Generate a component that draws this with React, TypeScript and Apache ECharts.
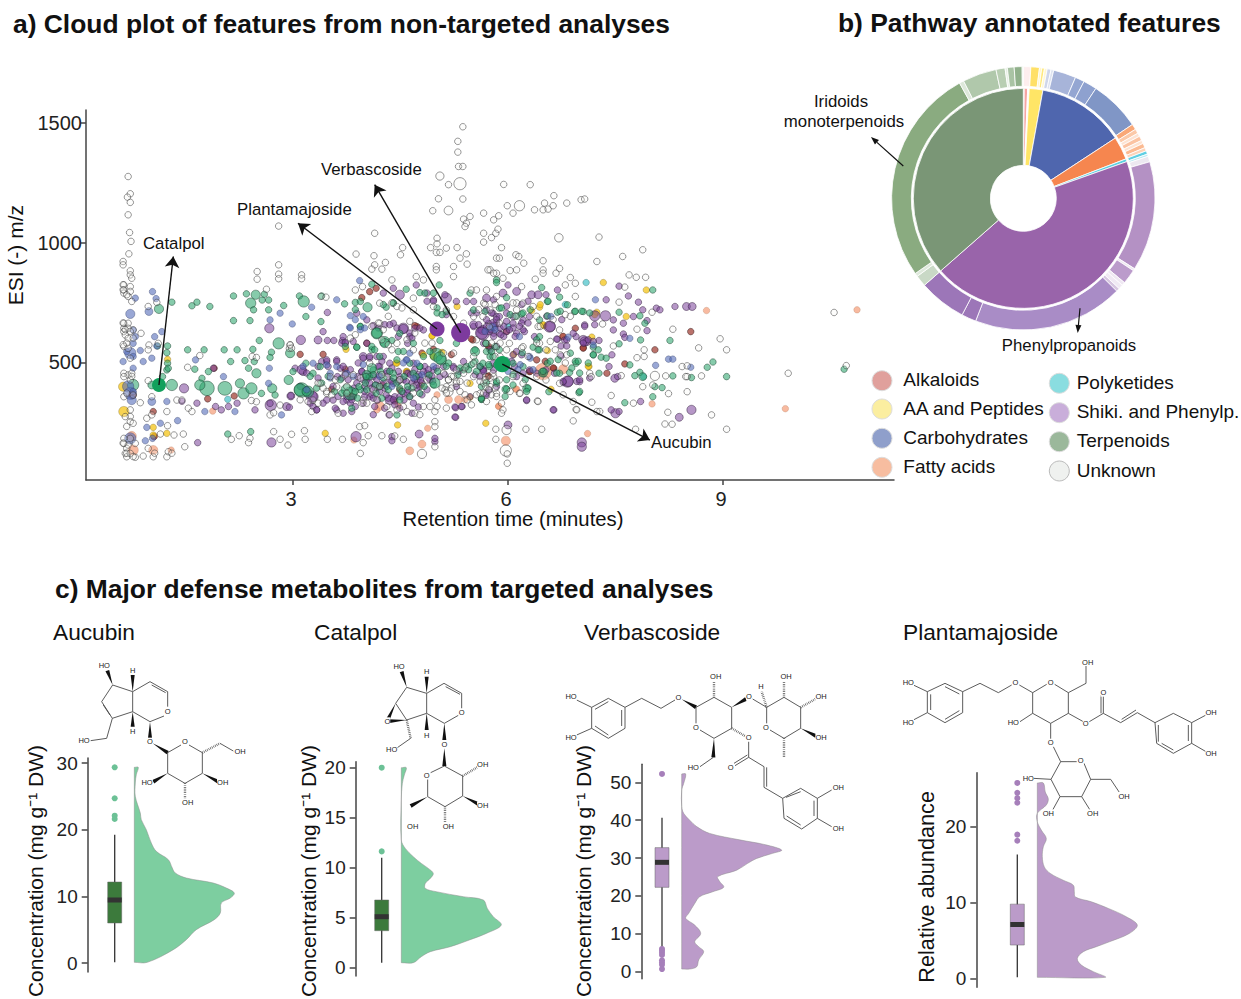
import React, { useEffect, useRef } from "react";
import * as echarts from "echarts";

type P = number[];

// ---------- a) cloud plot: [retention time, m/z, relative intensity]
const unknownPts: P[] = [
[.7,1276],[.73,1204],[.69,1190],[.73,1168],[.7,1116],[.72,1042],[.74,1005],[.71,953],[.63,921],[.63,907],[.73,882],[.73,865],[.75,851],[.64,823],[.64,802],[.64,789],[.73,816],[.73,796],[.7,775],[.75,754],[.64,663],[.64,642],[.64,628],[.7,663],[.7,642],[.66,614],[.7,600],[.77,635],[.88,621],[.64,566],[.7,558],[.73,517],[.64,454],[.7,447],[.75,454],[.64,440],[.73,426],[.87,331],[.77,363],[.64,356],[.73,301],[.73,273],[.73,252],[.77,245],[.64,161],[.68,140],[.66,119],[.68,105],[.8,103],[.73,119],[.73,182],[.64,182],[.8,161],[.7,154],
[.98,733],[1.1,750],[.99,572],[.98,552],[1.12,579],[.98,423],[1.03,356],[.96,266],[1.03,280],[1.24,294],[1.38,342],[1.45,342],[1.54,308],[1.59,294],[1.34,196],[1.47,200],[1.49,147],[1.24,105],[1.26,126],[.98,140],[1.05,105],[.91,108],[1.07,120],[1.31,120],[1.25,235],[1.15,200],
[2.8,1069],[2.5,879],[2.5,847],[2.8,907],[2.8,868],[2.8,849],[3.12,865],[3.12,849],[2.63,805],[3.39,775],[3.46,772],[4.14,1039],[3.88,952],[4.13,945],[4.5,949],[4.53,979],[4.14,907],[4.29,917],[4.1,889],[4.24,889],[4.38,844],[4.92,979],[5.01,1018],[5.01,995],[5.14,977],[5.29,979],[5,959],[5.05,959],[5.33,935],[5.42,953],[5.43,910],[5.24,900],[5,900],[5,886],[5.24,858],[4.72,858],[4.82,844],[4.95,1133],[5.03,1183],[5.17,1242],[5.05,1278,1.6],[5.33,1246,3.5],[5.17,1134,1.8],[5.37,1182],[5.38,1098],[5.47,1109],[5.42,1081],[5.4,1067],[5.31,1318],[5.37,1318],[5.3,1378],[5.3,1423],[5.37,1484],
[5.66,1123],[5.8,1095],[5.87,1112],[5.66,1039],[5.66,1002],[5.77,1021],[5.83,1039],[5.84,935],[5.75,886],[5.84,872],
[5.94,1243],[6.31,1242],[6.64,1196],[6.82,1165],[7.02,1179],[7.07,1182],[6.51,1165],[6.16,1154,2.5],[5.99,1154],[6.07,1123],[6.37,1137],[6.49,1137],[6.56,1140],[6.63,1154],[5.86,1056],[7.27,1023],[6.71,1020,1.7],[5.91,979],[7.6,942],[7.88,970],[7.24,921],[6.49,924],[6.22,914],[6.11,949],[6.15,942],[5.88,935],[6.03,883],[6.12,886],[6.72,892],[6.67,872],[6.49,886],[6.38,847],[6.49,872],[5.72,886],[5.8,872],[6.87,854],[6.8,823],[6.94,830],[7.69,865],[7.79,855],[7.92,855],[7.63,814],[6.94,775],[7.55,751],[6.19,816],[5.93,851],
[8.01,709],[7.32,660],[7.8,638],[8.3,638],[8.96,598],[9.05,552],[8.66,560],[7.9,552],[7.8,519],[7.9,524],[7.47,568],[8.43,482],[8.5,485],[8.05,443,2],[8.2,443],[8.5,440],[8.7,443],[8.48,440],[7.58,444],[8.02,405],[7.88,398],[8.5,377],[8.24,369],[7.44,361],[6.41,338],[7.17,333],[7.75,329],[6.95,303],[7.28,294],[8.23,291],[8.84,280],[6.91,255],[8.19,242],[8.29,241],[5.83,220],[5.98,217,2],[6.25,220],[6.47,220],[9.05,220],[5.83,178],[5.97,131,3],[5.99,117],[5.99,78],[7.78,220],[9.91,454],[10.55,708],[10.72,486],
[2.96,572],[2.95,558],[2.43,524],[2.49,520],[2.68,280],[2.73,289],[2.82,321],[2.42,340],[2.49,335],[1.53,479],[1.7,528],[2.73,210],[2.82,178],[2.93,154],[2.98,199],[3.16,214],[3.17,178],[3.48,178],[3.69,178],[3.98,164],[3.94,119],[4.24,193],[4.42,192],[4.54,178],[4.8,117,2],[4.98,147],[4.98,252],[4.98,231],[4,235],[3.93,231],[4.05,193],[4.59,294],[4.7,287],[5.14,308],[5.17,377,2],[2.14,178],[2.25,193],[2.4,182],[2.38,164],[3.87,802],[3.97,816],[5.49,802],[5.56,802],[5.7,802],[4.68,768],
[4.21,663],[4.45,579],[4.68,552],[4.07,496],[4.31,440],[4.49,426],[4.87,426],[5.14,398],[5.24,440],[5.28,412],[5.38,454],[5.52,440],[5.66,412],[5.1,454],[5.17,426],[4.68,398],[3.52,440],[3.38,412],[3.47,370],[3.61,398],[3.28,342],[3.75,370],[3.98,342],[5.28,468],[5.52,496],[5.8,440],[5.75,398],[5.61,370],[5.38,663],[5.24,691],[5.14,719],[4.96,733],[4.68,719],[4.45,733],[4.21,747],[5.52,691],[5.75,719],[5.66,747],[5.84,775],
[5.65,691],[5.74,649],[5.88,663],[6.12,719],[6.21,747],[6.35,733],[6.42,649],[6.72,635],[5.69,579],[5.84,565],[6.02,579],[6.21,565],[6.44,579],[6.53,552],[5.69,440],[5.79,454],[5.88,426],[6.07,440],[6.21,412],[6.4,440],[5.84,370],[5.69,398],[5.93,301],[5.91,287],[6.16,370],[6.53,426],[6.72,412],[7.14,454],[7.16,440],
];
const unknownDense: P[] = [
[4.19,664],[4.1,650],[4.26,636],[4.24,594],[4.33,573],[4.38,552],[4.59,594],[3.87,615],[3.8,601],[4.33,692],[4.52,727],[4.63,671],[4.7,622],[4.94,580],[4.84,580],[5.1,538],[5.24,538],[5.21,441],[5.17,427],[5.28,420],[5.12,385],[5.21,392],[5.08,392],[5.14,371],[4.98,343],[4.91,315],[4.98,294],[4.82,315],[4.49,427],[4.24,448],[3.94,434],[3.84,448],[3.73,448],[4.21,399],[4.12,385],[3.96,329],[4.03,329],[4.17,343],[4.45,301],[4.35,281],[3.75,399],[4.68,371],[4.54,315],[4.31,315],[4.77,281],[5.01,315],[5.4,476],[5.43,413],[5.33,378],[5.4,364],[5.43,343],[5.33,420],[4.38,748],
[5.68,427],[5.75,434],[5.61,420],[5.82,392],[5.73,385],[5.66,371],[5.56,364],[5.77,364],[5.84,357],[5.49,322],[5.7,336],[5.91,329],[6.03,378],[6.17,371],[6.42,336],[6.28,524],[6.19,559],[6.4,580],[6.66,552],[6.73,531],[6.8,497],[6.82,531],[6.77,364],[6.91,336],[7.24,294],[6.96,301],[6.12,748],[6.1,692],[6.4,692],[6.45,650],[6.63,678],[6.8,699],[6.87,692],[6.59,587],[5.56,594],[5.77,580],[5.89,580],[5.98,552],[5.52,524],[5.82,524],[5.89,524],[5.59,720],[5.68,741],[5.82,741],[6.07,748],
[2.96,573],[2.98,559],[3.35,413],[3.47,378],[3.54,364],[3.63,287],[3.1,343],[3.21,336],[3.35,329],[3.26,294],[3.42,392],[3.59,427],
[.63,824],[.63,803],[.68,782],[.63,664],[.66,636],[.73,629],[.77,601],[.68,580],[.63,573],[.75,441],[.68,371],[.66,273],[.68,232],[.63,162],[.68,120],[.77,106],
];
const terpenoidPts: P[] = [
[1.31,751],[1.13,723,2],[1.59,736],[1.66,751],[1.84,733],[2.17,777],[2.17,674],[2.4,674],[2.35,786],[2.48,782,2],[2.41,747,2.5],[2.45,719],[2.57,760],[2.66,760],[2.6,784],[2.66,719],[2.87,737],[3.09,777],[3.15,754,3],[3.18,691],[3.39,670],[3.4,777],[3.72,744],[3.87,750],[3.94,754],[4.04,730,2],[4.3,730],[4.4,747],[4.1,826],[4.58,805],[5.04,823],[4.77,791],[4.84,789],[4.96,789],[5.01,727],[5.14,712],[5.47,789],[5.68,712],[5.52,719],
[1.11,568],[1.25,568],[1.24,540],[1.25,496],[1.24,468],[1.26,475],[1.18,440],[1.31,405,3],[1.03,405,1.5],[.77,405,3],[1.53,552],[1.76,552],[2.04,552],[2.22,552],[2.44,554],[2.53,591],[2.8,579,3],[2.96,538,2],[2.7,542],[2.68,520],[2.13,503],[2.33,507],[2.46,503],[1.63,471],[1.82,461],[1.73,433],[2.49,454,2],[2.38,475],[1.8,391,5],[1.7,405,2.5],[2.05,391,4.5],[2.26,412,2],[2.31,370,3],[2.42,391,3],[2.71,391,2],[2.75,363],[2.94,426,2],[3.12,384,5],[3.21,377,3],[2.56,370],[2.09,200],[2.41,210],[3.18,496],[3,461],[3.28,454],[3.38,482],[3.8,370,4],[3.82,308],[4.03,447,2],[4.12,468],[4.17,621,3],[4.28,586,2.5],[4.21,524],[3.94,649],[3.89,563],[4.1,552],[4.45,510],[4.07,440],[4.21,398],[4.4,454],[4.63,496],[4.68,454],[4.77,482],[4.77,370],[4.96,405],[5,531,4],[5.07,510,2.5],[4.82,524],[4.49,342],[4.45,280],[5.28,579],[5.54,552],[5.42,482],[5.61,482],[5.63,345],[5.05,591],[5.38,468],[5.75,524],[5.84,489],[5.84,844],[5.7,579],[4.68,579],[4.49,621],
[5.84,833],[6.47,812],[6.72,772],[6.83,740],[6.55,754],[6.93,712],[7.05,712],[7.55,709],[7.84,694],[7.91,663],[8.02,802],[6.69,709],[6.55,694],[6.44,677],[6.19,702],[5.88,726],[5.98,770],[6.44,607],[7.19,563],[7.55,577],[7.85,593],[8.26,591],[7.19,531],[7.3,521],[7.37,517],[8.78,479],[8.86,501],[9.05,440],[7.7,489],[7.84,458],[7.77,444],[7.88,440,1.5],[8.15,394],[8.02,356],[8.05,398],[7.63,331],[6.99,373],[6.26,391,1.5],[5.97,387,1.5],[5.7,415],[5.63,345],[6.57,377],[6.49,457,2],[6.86,457],[7.27,454],[8.3,443],[8.56,436],[10.69,471],[6.07,496],[6.21,482],[6.35,563],[6.44,552],[6.55,496],[6.72,454],[6.95,496],[5.69,579],[5.74,482],[5.79,524],[5.88,552],[5.84,412],[6.07,405],[5.65,496],[6.2,540],
];
const terpenoidDense: P[] = [
[4.17,622,2.5],[4.28,580,2],[4.1,566],[4.14,552],[4.47,545],[4.54,545],[3.89,563],[3.73,566],[3.94,650],[4.38,591],[5.05,518,3.5],[4.98,413,2.5],[5.01,706],[5.08,699],[4.91,545],[5.17,497],[4.1,476,2],[4.12,448],[4.26,434],[4.35,462],[4.4,434],[4.01,413],[3.94,385],[4.03,385],[4.31,399],[4.49,392],[4.63,357],[4.66,392],[4.24,350],[3.75,385,3],[3.68,371],[3.87,378],[3.87,720],[4.4,748],[4.26,741],[4.77,483],[5.33,476],[5.45,469],[5.14,483],
[5.54,545,2],[5.7,545],[5.77,545],[5.82,566],[5.49,490],[5.54,504],[5.56,462],[5.73,490],[5.63,399],[5.63,350],[5.98,427],[5.98,388],[5.96,357],[5.84,420],[6.07,448],[6.24,427],[6.28,392],[6.26,378],[6.42,552],[6.59,504],[6.7,511],[6.49,462],[6.68,455],[6.89,476],[6.94,504],[6.87,538],[6.98,504],[7,455],[7,378],[7.19,531],[7.26,552],[7.12,497],[6.94,713],[7.03,713],[7.14,706],[6.73,713],[6.56,755],[6.03,699],[5.91,727],[6.21,706],[6.4,594],[6.31,720],[6.12,692],
[3.1,385,3.5],[3.19,378,2],[3.24,441],[3.49,441],[3.66,427],[3.33,392],[3.4,413],
[3.92,398],[4.02,440],[4.15,405],[4.22,462],[4.33,385],[4.44,413],[4.55,440],[4.6,399],[4.72,440],[4.83,399],[4.9,447],[4.52,378],[4.16,371],[3.9,350],[3.58,378],[5.02,462],[5.3,448],
];
const shikimatePts: P[] = [
[3.48,708],[2.67,642,2],[3.11,593,2],[3.35,593,1.5],[3.48,591],[3.57,591],[3.42,628],[3.69,591],[3.89,705],[4.03,677],[4.49,782,2],[4.72,823],[4.96,761],[5.14,768,2.5],[5.28,754],[5.42,754],[5.52,754],[4.87,789],[5.12,782],[4.4,809],[4.26,789],
[4.4,663],[4.54,642,2.5],[4.7,642],[4.82,635],[5.65,621,4],[5.52,649],[5.8,649,2],[4.63,607],[4.6,579],[4.03,579],[3.7,607],[3.73,579],
[3.14,461,1.5],[3.03,475],[3.47,503],[3.35,482],[3.49,482],[3.61,510],[3.66,475],[3.73,454],[3.98,524,1.5],[4.07,517],[4.16,398,2],[4.26,524],[4.35,496],[3.96,461],[4.03,426],[4.12,440],[4.21,482],[4.31,454],[4.4,412],[4.35,342,2],[4.42,356],[4.49,440],[4.61,454],[4.68,496],[4.73,426],[4.87,454],[4.77,440],[4.84,482],[4.91,426],[4.96,468],[4.77,398],[4.54,370],[4.63,356],[4.68,329],[4.07,356],[3.98,329],[3.75,342],[3.84,356],[3.8,329],[3.56,342],[3.47,342],[3.28,356,2.5],[3.24,329],[3.33,301],[3.42,329],[3.61,301],[3.7,287],[4.18,342],[4.28,308],[4.34,280],[4.49,308],[5.27,310],[5.27,270],[5.36,315],[2.97,359,1.5],[2.47,301],[2.69,321,3],[2.91,315,1.5],[2.95,312],[2.68,328],[1.48,391,2],[1.45,337],[1.66,329],[1.89,475],[2,301],[2.1,315],[2.22,329],[1.92,315],[1.67,164],[2.7,165,2],[3.88,189,2.5],[4.38,189],[4.38,172],[4.76,200,1.5],[4.98,168],[4.98,182],
[5.05,440],[5.61,440],[5.38,503],[5.24,482],[5.66,468],[5.8,468],[5.84,398],[5.7,370],[5.47,356],[5.28,398],[5.61,635],[5.73,663],[5.84,691],[5.8,621],[5.66,579],[5.84,566],[5.75,552],
[5.7,768,1.5],[5.8,761],[5.93,789,1.5],[6.12,796,1.5],[6,823],[6.33,782,1.5],[6.42,782,1.5],[6.53,782],[6.69,802],[5.7,719],[5.79,705],[5.88,691],[5.98,705],[6.07,691],[6.21,677],[6.3,691],[5.65,635,2],[5.74,628],[5.84,663],[5.88,621],[5.98,628],[6.07,663],[6.12,621],[6.23,628],[6.37,607],[6.58,649,3],[7.21,694,2.5],[7.36,694,2.5],[7.37,761],[7.82,751],[7.88,719],[7.75,691],[7.68,777],[7.55,818],[8.07,726],[8.12,719],[8.33,733],[8.49,733,1.5],[8.57,733,1.5],[7.47,677],[7.61,663],[7.47,635],[7.61,618],[7.63,604],[7.94,632],[7.94,674],[7.07,656],[7.05,593,2],[7.1,586,1.5],[7.27,591],[6.95,607],[6.69,596],[6.79,593],[6.74,568],[6.82,568],[6.91,621],[7.45,531],[6.74,526],[7.41,482],[7.49,433,1.5],[7.53,440],[7,419],[6.83,419,3],[6.77,415],[6.26,340],[6.64,301],[6,238,1.5],[7.03,165,2],[7.03,147,2],[7.5,287,2],[7.44,301],[7.55,294],[7.85,336],[8.56,301,2],[8.39,270,1.5],[6.12,440],[6.21,454],[6.3,468],[6.4,454],[6.53,468],[6.65,454],[5.74,384],[5.7,363],[6.09,482],[5.79,496],[5.65,468],
];
const shikimateDense: P[] = [
[4.07,524],[4.17,524],[4.24,504],[3.98,517],[3.91,497],[3.8,469],[3.7,483],[3.96,462],[4.05,448],[4.19,483],[4.31,462],[4.38,476],[4.47,462],[4.59,455],[4.7,469],[4.75,448],[4.82,462],[4.89,469],[5,476],[5.1,483],[5.24,476],[4.7,427],[4.8,413],[4.89,434],[4.66,413],[4.54,427],[4.47,420],[4.35,427],[4.26,413],[4.17,427],[4.07,413],[3.98,427],[3.89,413],[3.77,427],[3.68,434],[3.75,357],[3.82,343],[3.7,336],[3.87,315],[3.82,294],[4,357],[4.1,364],[4.21,378],[4.33,350],[4.4,343],[4.49,357],[4.59,371],[4.8,364],[4.73,392],[4.87,385],[4.14,315],[4.12,281],[5.26,313],[5.35,315],[5.26,271],[4.75,313],[4.66,287],[4.42,322],
[4.28,657],[4.35,657],[4.45,643],[4.54,639,2],[4.63,622],[4.77,643],[4.66,601],[4.47,608],[3.68,580],[3.73,583],[3.84,587],[4.19,643],[4.12,653],[5.14,699],[4.87,755],[4.96,755],
[5.63,622,3.5],[5.52,657,1.5],[5.7,650],[5.8,664,1.5],[5.89,643],[6.07,643],[6.1,608],[5.8,608],[5.94,608],[5.59,657],[5.84,678],[5.98,671],[6.19,664],[6.21,636],[6.28,664],[6.59,650,2.5],[7.07,587,2],[7.12,594],[7.05,580],[7.19,587],[6.68,597],[6.82,594],[6.84,420,2.5],[6.96,420],[7,427],[6.77,420],[7.14,434],[6.63,301],[7.07,650],[7.21,657],[6.75,678],[5.49,706],[5.56,706],[5.77,706],[5.98,734],[6.19,741],[6.28,755],[6.54,692],[5.61,483],[5.54,448],[5.66,462],[6.05,504],[6.12,545],[6.19,531],[6.07,531],[6.26,343],
[3.12,469,2],[3.19,455],[3.26,357,3],[3.4,503],[3.47,510],[3.61,503],[3.35,434],[3.56,399],[3.63,357],[3.28,315],[3.33,301],[3.59,308],[2.97,360],[3.1,399],
[3.9,440],[4,398],[4.1,392],[4.2,448],[4.28,392],[4.38,420],[4.58,420],[4.64,448],[4.72,405],[4.78,426],[4.94,440],[4.6,385],[4.3,364],[4.0,378],[3.85,392],[3.62,440],[4.12,350],[4.55,343],[4.95,420],[5.12,448],[5.32,462],[5.7,678],[5.76,636],[5.9,615],[5.94,650],[6.02,636],[6.16,650],
];
const carbohydratePts: P[] = [
[.73,702,2],[.77,635],[.73,538,3],[.63,503],[.77,475],[.73,370,3.5],[.75,342,2],[.73,182,3],[.8,768],[.8,607],[.77,579],[.68,545],[.77,524],[.7,399,3],[.77,378],
[1.04,795],[1.09,766],[.99,712,1.5],[1.17,628],[1.07,607],[1.1,568],[.87,549],[.91,503],[1.03,517],[1.03,336,1.5],[1.24,336],[1.39,256],[.96,228],[1.15,245],[.94,172],[1.04,182],[1.64,510],[2.03,440],[2.19,294],[1.77,294],[2.67,475],[2.68,677],[2.82,705],[2.99,660],[3.26,730],[3.61,761],[3.93,841],[3.79,646],[3.98,691],[2.84,280],[3.61,482],[2.66,412],[3.52,454],[3.28,496],[3.75,454],[4.58,510],[4.73,496],
[7.22,761],[7.7,600],[6.3,524],[6.16,607],[8.24,513],[8.3,513],[8.55,479],[8.06,487],[5.98,507],[5.79,649],[6.6,691],[7.19,572],
[3.8,695],[3.87,678],[3.94,636],[4,643],[3.8,643],[4.63,538],[4.59,510],[4.54,497],[3.98,490],[3.84,441],[4.8,448],[4.68,434],[4.21,441],[4.38,399],[4.96,483],
[5.82,636],[5.75,643],[5.68,629],[6.31,517],[6.17,490],[6.35,469],[6.84,605],[6,462],[6.14,469],[3.47,489],[3.52,434],[3.14,483],[3.19,385],
];
const fattyAcidPts: P[] = [
[.75,192,2],[.77,133,2.5],[1.05,133,2],[1.07,192],[1.3,133],[1.88,296],[3.85,175],[4.63,130,1.5],[4.8,158,1.5],[4.88,224],[4.21,317,2],[4.17,301],[4.47,317],[5.17,344,1.5],[5.31,344,1.5],[5.4,344],[5.87,315],
[6.49,461,6.5],[6.77,471,2],[6.11,387],[5.87,317],[8.01,326],[5.97,172,2],[7.11,202],[8.77,716],[10.87,719],[9.87,306],[6.76,607],[5.01,364],[6.12,388],
];
const aminoAcidPts: P[] = [
[.63,398,2],[.64,294,2.5],[1.05,228],[1.05,196],[1.24,203],[1.25,512],[3.45,203],[4.46,238],[5.69,245],[5.47,354],[5.47,412],[4.45,496],[4.96,524],[5.07,538],[5.29,733],[3.74,554],[4.94,610],[4.82,531],[4.58,461],[4.79,405],
[7.93,802],[7.65,691],[7.24,709],[7.33,833],[6.33,716],[6.44,730],[6.5,653],[6.55,549],[6.08,533],[7.13,482],[6.6,387],[7.17,605],[4.44,497],[4.59,462],[4.94,611],[5.08,541],[4.96,525],[6.45,741],[7.21,699],[6.49,657],[7.12,483],
];
const alkaloidPts: P[] = [
[.76,363,1.5],[1.05,294],[1.81,347],[2.18,359],[3.1,533],[3.42,533],[3.54,387],[3.96,770],[4.16,809],[4.07,795],[4.73,649],[4.96,554],[5.51,593],[3.73,471],[3.82,356],[4.25,405],[4.42,338],[1.9,475],[1.06,189],
[6.94,642],[7.05,561],[8.55,628],[8.05,552],[7.63,493],[7.38,454],[6.3,461],[6.4,510],[6.64,475],[5.72,440],[5.74,563],[6.49,454],[4.03,580],[4.7,653],[5.21,532],[4.8,538],[3.8,360],[4.49,385],[6.52,504],[6.31,462],[6.63,476],[5.98,629],[5.73,566],[5.73,443],[5.49,597],[6.77,608],[7.05,559],
];
const polyketidePts: P[] = [[2.09,345],[7.09,833],[6,649],[7.89,440],[6.8,741]];
const terpeneMarkers: P[] = [[5.92,492,6.2],[1.13,405,4.6]];
const phenylMarkers: P[] = [[5.01,639,5.4],[5.34,624,8.7]];
const annotationTargets = [
  { name: "Catalpol", from: [1.13, 405], to: [1.33, 942] },
  { name: "Plantamajoside", from: [5.01, 639], to: [3.07, 1081] },
  { name: "Verbascoside", from: [5.34, 624], to: [4.14, 1242] },
  { name: "Aucubin", from: [5.92, 492], to: [7.98, 175] },
];
const xTicks = [3, 6, 9];
const yTicks = [500, 1000, 1500];

// ---------- b) pathway rings (degrees of the circle)
const innerNames = ["", "Alkaloids", "", "AA and Peptides", "Carbohydrates", "Fatty acids", "Polyketides", "Shiki. and Phenylp.", "Terpenoids"];
const innerValues = [0.5, 1.8, 0.8, 7.2, 46.5, 12.2, 1.5, 158.2, 131.3];
const innerColors = ["#ffffff", "#f6a5a2", "#ffffff", "#ffe566", "#4f66ae", "#f6864f", "#5cd0e0", "#9964aa", "#7a9676"];
const outerValues = [3.3, 3.8, 1, 1.2, 1.2, 1.7, 1.2, 10, 4.1, 6, 22.5, 2.5, 2, 1.5, 2, 1.5, 2, 1.5, 1.5, 1, 2.5, 48.5, 1, 6.5, 1.5, 2, 1.5, 66.5, 6.5, 21, 5, 1.5, 96, 2, 15, 4, 1, 3, 3.5, 0.5];
const outerColors = ["#fdeeee", "#ffe066", "#fff6c8", "#ffe97f", "#fff7d0", "#cfd6ea", "#dde2f0", "#a7b4d9", "#94a6d2", "#8ea1cf", "#8096c6", "#f9a877", "#fbc9a8", "#fde3d2", "#fbc3a2", "#fde3d2", "#fbba92", "#fcd3b9", "#5fcfe3", "#bfeaf2", "#ece8f0", "#b491c4", "#efe8f2", "#bb9bcb", "#efe8f2", "#f0e9f3", "#d7c6e0", "#a98cc6", "#9c76b8", "#9c76b8", "#c9d9c6", "#dfe9dc", "#8aab80", "#dde8da", "#b0c8ab", "#b8ceb2", "#e5efe2", "#a9c3a4", "#90b08b", "#e5efe2"];
const legendLeft = ["Alkaloids", "AA and Peptides", "Carbohydrates", "Fatty acids"];
const legendRight = ["Polyketides", "Shiki. and Phenylp.", "Terpenoids", "Unknown"];
const legendLeftColors = ["#e0a09c", "#fbeea0", "#8f9fcb", "#f7bda0"];
const legendRightColors = ["#8adde0", "#c9aeda", "#9bb89b", "#eff1ef"];

// ---------- c) raincloud panels: [concentration, relative density]
const aucubinDensity: P[] = [[.1,.13],[2,.39],[3.5,.52],[5,.62],[6.5,.8],[7.5,.86],[9,.87],[9.75,.96],[10.5,1],[11.25,.92],[12,.79],[12.75,.52],[13.5,.41],[14.25,.38],[15.5,.34],[16.75,.22],[18,.17],[20,.12],[21.5,.07],[22.5,.06],[25,.01],[27,.01],[28.25,.02],[29.35,.04]];
const catalpolDensity: P[] = [[.5,.12],[1.1,.2],[1.6,.29],[2.1,.49],[2.77,.68],[3.43,.85],[4.27,1],[5.1,.92],[5.93,.86],[6.77,.82],[7.1,.62],[7.6,.35],[7.93,.24],[8.43,.24],[8.93,.29],[9.43,.32],[9.93,.27],[10.43,.2],[11.1,.12],[11.93,.04],[12.77,0],[16.77,0],[18.4,.01],[19.27,.03],[20,.05]];
const verbascosideDensity: P[] = [[.7,.08],[1.3,.15],[3.1,.17],[5.3,.22],[6.6,.17],[7.9,.13],[10.1,.19],[12.3,.13],[14.1,.04],[15.4,.07],[18,.13],[19.8,.18],[21.1,.31],[22.3,.42],[23.8,.38],[25.1,.36],[26.8,.55],[28.6,.66],[29.9,.75],[31.25,.91],[32.1,1],[33.5,.84],[34.8,.58],[36.5,.28],[38.3,.15],[40,.08],[41.8,.02],[43.6,0],[48,0],[49.7,.02],[52.2,.04]];
const plantamajosideDensity: P[] = [[.13,.68],[.88,.56],[1.75,.44],[2.6,.4],[3.5,.46],[4.16,.59],[4.8,.72],[5.9,.92],[7,1],[8.1,.89],[9.2,.71],[10.07,.54],[10.7,.38],[11.4,.37],[12.25,.36],[12.9,.26],[13.8,.13],[14.66,.07],[16,.05],[17.3,.06],[18.4,.09],[19.5,.04],[20.6,0],[21.7,0],[22.8,.09],[23.6,.11],[24.5,.08],[25.7,.06]];
// [low whisker, Q1, median, Q3, high whisker]
const aucubinBox = [0.1, 6, 9.45, 12.15, 19.25];
const catalpolBox = [0.5, 3.7, 5.1, 6.77, 11];
const verbascosideBox = [6.2, 22.27, 28.87, 32.75, 40.67];
const plantamajosideBox = [0.13, 4.38, 7.09, 9.76, 16.3];
const aucubinOutliers = [29.35, 24.7, 22.1, 21.6];
const catalpolOutliers = [20, 11.63];
const verbascosideOutliers = [52.2, 6, 5.5, 5, 4.4, 3, 2.4, 1.8, 0.7];
const plantamajosideOutliers = [25.7, 24.4, 23.7, 23.1, 18.9, 18.1];
const aucubinTicks = [0, 10, 20, 30];
const catalpolTicks = [0, 5, 10, 15, 20];
const verbascosideTicks = [0, 10, 20, 30, 40, 50];
const plantamajosideTicks = [0, 10, 20];

const FONT = '"Liberation Sans", Arial, sans-serif';
const panels = [
  { name: "Aucubin", density: aucubinDensity, box: aucubinBox, outliers: aucubinOutliers, ticks: aucubinTicks, axisX: 87.7, top: 758, bottom: 972, min: -1.35, max: 30.75, boxPx: 114.7, base: 134.3, fill: "#7dcea0", boxFill: "#3c7a3c", outlier: "#6cc196" },
  { name: "Catalpol", density: catalpolDensity, box: catalpolBox, outliers: catalpolOutliers, ticks: catalpolTicks, axisX: 355.7, top: 761.7, bottom: 976, min: -0.83, max: 20.6, boxPx: 381.7, base: 401.3, fill: "#7dcea0", boxFill: "#3c7a3c", outlier: "#6cc196" },
  { name: "Verbascoside", density: verbascosideDensity, box: verbascosideBox, outliers: verbascosideOutliers, ticks: verbascosideTicks, axisX: 641.3, top: 764.3, bottom: 978.7, min: -1.85, max: 54.75, boxPx: 662, base: 681.7, fill: "#bb9bc9", boxFill: "#bb9bc9", outlier: "#a67fba" },
  { name: "Plantamajoside", density: plantamajosideDensity, box: plantamajosideBox, outliers: plantamajosideOutliers, ticks: plantamajosideTicks, axisX: 976.3, top: 772.7, bottom: 987.3, min: -1.18, max: 27.05, boxPx: 1017.3, base: 1037.3, fill: "#bb9bc9", boxFill: "#bb9bc9", outlier: "#a67fba" },
];

type Mol = { o: number[]; lines: number[][]; wedges: number[][]; hashes: number[][]; labels: [string, number, number][] };
const molecules: Mol[] = [
  { o: [0, 650],
    lines: [[338,105,398,125,398,185,337,205,305,155,338,105],[330,195,310,165],[398,125,450,95,503,125,503,170],[455,105,497,128],[492,198,450,215,398,185],[337,205,320,265,272,272],[503,308,543,285],[567,285,607,308,607,370,555,400,503,370,503,308],[660,280,700,303]],
    wedges: [[338,105,322,62],[398,125,398,75],[398,185,398,230],[450,215,450,265],[458,280,503,308],[503,370,460,395],[607,370,655,395]],
    hashes: [[607,308,660,280],[555,400,555,445]],
    labels: [["HO",313,45],["H",398,60],["O",503,183],["H",398,243],["HO",252,272],["O",450,275],["O",555,275],["OH",720,305],["HO",441,397],["OH",668,397],["OH",563,458]] },
  { o: [290, 650],
    lines: [[350,112,410,130,410,190,350,210,317,160,350,112],[410,130,462,100,515,130,515,175],[467,110,510,133],[505,196,463,220,410,190],[362,265,322,293],[463,348,518,378,518,438,465,470,413,440,413,388],[422,368,463,348]],
    wedges: [[317,160,292,212],[350,210,295,214],[350,112,335,65],[410,130,410,80],[410,190,410,240],[463,220,463,270],[463,295,463,348],[518,438,565,462],[413,440,362,468]],
    hashes: [[350,210,362,265],[518,378,565,350],[465,470,465,518]],
    labels: [["HO",327,50],["H",410,65],["O",515,188],["H",410,255],["O",292,214],["HO",305,297],["O",463,282],["O",410,376],["OH",578,343],["OH",578,466],["OH",475,530],["OH",368,530]] },
  { o: [560, 650],
    lines: [[95,172,145,145,195,172,195,235,145,265,95,235,95,172],[105,178,145,155],[105,228,145,255],[185,180,185,228],[50,150,95,172],[50,255,95,235],[195,172,245,145,303,175,345,150],[408,172,462,142,515,172,515,235,462,265,420,240],[408,222,408,172],[578,147,620,172],[620,172,672,142,722,172,722,235,672,265,630,240],[620,222,620,172],[566,275,566,322],[566,322,525,347],[562,315,522,340],[566,322,612,350,612,412,668,445],[620,352,620,410],[668,445,722,415,772,445,772,505,725,537,672,505,668,445],[762,452,762,498],[680,498,722,525],[678,442,722,425],[772,445,815,420],[772,505,815,530],[460,322,420,350]],
    wedges: [[365,148,408,172],[515,172,558,147],[722,235,768,258],[462,265,460,322]],
    hashes: [[462,142,462,95],[620,172,605,125],[672,142,672,95],[722,172,770,145],[672,265,672,322],[515,235,555,258]],
    labels: [["HO",33,140],["HO",33,262],["O",355,142],["O",408,232],["OH",467,80],["O",567,140],["O",618,232],["H",603,110],["OH",678,80],["OH",783,140],["OH",783,262],["O",566,262],["O",512,352],["OH",835,413],["OH",835,535],["HO",400,352]] },
  { o: [900, 650],
    lines: [[82,125,135,100,188,125,188,188,135,218,82,188,82,125],[92,133,92,180],[135,110,178,132],[135,208,178,182],[40,105,82,125],[40,210,82,188],[188,125,240,100,295,128,335,105],[358,105,398,128],[398,128,440,103],[464,103,505,128,505,190,452,220,398,190,398,128],[505,128,558,100,558,45],[398,190,360,215],[505,190,550,215],[568,215,610,190],[610,190,610,135],[603,190,603,135],[610,190,662,218,712,188,765,218],[665,208,708,180],[765,218,820,190,875,218,875,280,820,310,770,280,765,218],[775,225,775,275],[865,225,865,273],[785,280,820,300],[875,218,918,195],[875,280,918,305],[452,220,452,268],[460,290,482,335],[482,335,530,335],[552,340,572,388,545,440,480,440,453,388,482,335],[400,385,453,388],[572,388,632,388,660,430],[480,440,458,480],[545,440,570,480]],
    wedges: [], hashes: [],
    labels: [["HO",25,97],["HO",25,218],["O",346,98],["O",452,97],["OH",563,36],["HO",340,218],["O",557,220],["O",610,128],["OH",933,188],["OH",933,310],["O",452,278],["O",542,332],["HO",385,385],["OH",672,438],["OH",445,490],["OH",578,490]] },
];

function moleculeGraphics(m: Mol): any[] {
  const [ox, oy] = m.o;
  const px = (x: number, y: number) => [ox + x / 3, oy + y / 3];
  const out: any[] = [];
  m.lines.forEach((l) => {
    const pts: number[][] = [];
    for (let i = 0; i < l.length; i += 2) pts.push(px(l[i], l[i + 1]));
    out.push({ type: "polyline", shape: { points: pts }, style: { stroke: "#4a4a4a", lineWidth: 0.9, fill: "none" }, silent: true });
  });
  m.wedges.forEach(([a, b, c, d]) => {
    const [x1, y1] = px(a, b), [x2, y2] = px(c, d);
    const dx = x2 - x1, dy = y2 - y1, L = Math.hypot(dx, dy) || 1;
    const nx = (-dy / L) * 2, ny = (dx / L) * 2;
    out.push({ type: "polygon", shape: { points: [[x1, y1], [x2 + nx, y2 + ny], [x2 - nx, y2 - ny]] }, style: { fill: "#111" }, silent: true });
  });
  m.hashes.forEach(([a, b, c, d]) => {
    const [x1, y1] = px(a, b), [x2, y2] = px(c, d);
    out.push({ type: "line", shape: { x1, y1, x2, y2 }, style: { stroke: "#555", lineWidth: 2.4, lineDash: [0.7, 1.1] }, silent: true });
  });
  m.labels.forEach(([t, a, b]) => {
    const [x, y] = px(a, b);
    out.push({ type: "text", x, y, silent: true, style: { text: t, font: `7.5px ${FONT}`, fill: "#222", textAlign: "center", textVerticalAlign: "middle", align: "center", verticalAlign: "middle", backgroundColor: "#fff" } });
  });
  return out;
}

function txt(text: string, x: number, y: number, size: number, opts: any = {}) {
  const align = opts.align || "left";
  return {
    type: "text", x, y, rotation: opts.rotation || 0, silent: true, z: 10,
    style: { text, font: `${opts.bold ? "bold " : ""}${size}px ${FONT}`, fill: opts.fill || "#111", textAlign: align, align, textVerticalAlign: "middle", verticalAlign: "middle" },
  };
}
function arrow(x1: number, y1: number, x2: number, y2: number) {
  const a = Math.atan2(y2 - y1, x2 - x1), s = 8, w = 3;
  const bx = x2 - Math.cos(a) * s, by = y2 - Math.sin(a) * s;
  return [
    { type: "line", shape: { x1, y1, x2: bx, y2: by }, style: { stroke: "#111", lineWidth: 1.2 }, silent: true, z: 10 },
    { type: "polygon", shape: { points: [[x2, y2], [bx - Math.sin(a) * w, by + Math.cos(a) * w], [bx + Math.sin(a) * w, by - Math.cos(a) * w]] }, style: { fill: "#111" }, silent: true, z: 10 },
  ];
}

export default function App() {
  const ref = useRef<HTMLDivElement>(null);
  useEffect(() => {
    document.body.style.margin = "0";
    document.body.style.overflow = "hidden";
    const chart = echarts.init(ref.current!, undefined, { renderer: "svg" });

    const size = (v: number[]) => 6.5 * Math.sqrt(v[2] ?? 1);
    const cloud = (name: string, data: P[], color: string, border: string) => ({
      name, type: "scatter", xAxisIndex: 0, yAxisIndex: 0, data, symbolSize: size, silent: true,
      itemStyle: { color, borderColor: border, borderWidth: 0.7 },
    });

    const grids: any[] = [{ left: 86, top: 110, width: 808, height: 370 }];
    const xAxes: any[] = [{
      type: "value", gridIndex: 0, min: 0.112, max: 11.386,
      axisLine: { onZero: false, lineStyle: { color: "#444", width: 1.5 } },
      axisTick: { length: 5, lineStyle: { color: "#444", width: 1.5 }, customValues: xTicks },
      axisLabel: { customValues: xTicks, fontFamily: FONT, fontSize: 20, color: "#222", margin: 9, padding: [0, 4, 0, 0] },
      splitLine: { show: false },
    }];
    const yAxes: any[] = [{
      type: "value", gridIndex: 0, min: 8, max: 1554,
      axisLine: { onZero: false, lineStyle: { color: "#444", width: 1.5 } },
      axisTick: { length: 5, lineStyle: { color: "#444", width: 1.5 }, customValues: yTicks },
      axisLabel: { customValues: yTicks, formatter: (v: number) => String(v), fontFamily: FONT, fontSize: 20, color: "#222", margin: 4 },
      splitLine: { show: false },
    }];
    const series: any[] = [
      cloud("Fatty acids", fattyAcidPts, "rgba(244,150,110,0.82)", "rgba(170,110,80,0.5)"),
      cloud("Alkaloids", alkaloidPts, "rgba(160,60,50,0.9)", "rgba(50,25,25,0.85)"),
      cloud("AA and Peptides", aminoAcidPts, "rgba(245,197,28,0.95)", "rgba(120,100,30,0.6)"),
      cloud("Polyketides", polyketidePts, "rgba(73,194,201,0.9)", "rgba(40,90,90,0.6)"),
      cloud("Shiki. and Phenylp.", shikimatePts, "rgba(125,70,155,0.7)", "rgba(45,25,55,0.85)"),
      cloud("Shiki. and Phenylp. (dense)", shikimateDense, "rgba(125,70,155,0.7)", "rgba(45,25,55,0.85)"),
      cloud("Terpenoids", terpenoidPts, "rgba(45,165,110,0.72)", "rgba(20,60,40,0.85)"),
      cloud("Terpenoids (dense)", terpenoidDense, "rgba(45,165,110,0.72)", "rgba(20,60,40,0.85)"),
      cloud("Carbohydrates", carbohydratePts, "rgba(85,108,185,0.75)", "rgba(40,50,90,0.6)"),
      cloud("Unknown", unknownPts, "rgba(244,244,242,0.28)", "rgba(50,50,50,0.9)"),
      cloud("Unknown (dense)", unknownDense, "rgba(244,244,242,0.28)", "rgba(50,50,50,0.9)"),
      { name: "Terpenoid metabolites", type: "scatter", xAxisIndex: 0, yAxisIndex: 0, data: terpeneMarkers, symbolSize: size, silent: true, itemStyle: { color: "#12a05c", opacity: 1 },
        markLine: { silent: true, animation: false, symbol: ["none", "arrow"], symbolSize: 11, label: { show: false }, lineStyle: { color: "#111", width: 1.4, type: "solid" },
          data: annotationTargets.map((a) => [{ coord: a.from }, { coord: a.to }]) } },
      { name: "Phenylpropanoid metabolites", type: "scatter", xAxisIndex: 0, yAxisIndex: 0, data: phenylMarkers, symbolSize: size, silent: true, itemStyle: { color: "#7d3a9e", opacity: 1 } },
      { name: "Pathways", type: "pie", center: [1023.3, 198.3], radius: [33, 110], startAngle: 90, clockwise: true, silent: true, label: { show: false }, labelLine: { show: false }, minAngle: 0,
        itemStyle: { borderColor: "#fff", borderWidth: 0.8 },
        data: innerValues.map((value, i) => ({ value, name: innerNames[i], itemStyle: { color: innerColors[i] } })) },
      { name: "Classes", type: "pie", center: [1023.3, 198.3], radius: [112, 131.7], startAngle: 90, clockwise: true, silent: true, label: { show: false }, labelLine: { show: false }, minAngle: 0,
        itemStyle: { borderColor: "#fff", borderWidth: 0.8 },
        data: outerValues.map((value, i) => ({ value, itemStyle: { color: outerColors[i] } })) },
    ];

    panels.forEach((p, idx) => {
      const g = idx + 1, right = p.base + 115;
      grids.push({ left: p.axisX, top: p.top, width: right - p.axisX, height: p.bottom - p.top });
      xAxes.push({ type: "value", gridIndex: g, min: (p.axisX - p.base) / 100, max: (right - p.base) / 100, show: false });
      yAxes.push({
        type: "value", gridIndex: g, min: p.min, max: p.max,
        axisLine: { onZero: false, lineStyle: { color: "#444", width: 1.5 } },
        axisTick: { length: 6, lineStyle: { color: "#444", width: 1.5 }, customValues: p.ticks },
        axisLabel: { customValues: p.ticks, fontFamily: FONT, fontSize: 19, color: "#222", margin: 10 },
        splitLine: { show: false },
      });
      const bx = (p.boxPx - p.base) / 100;
      series.push({
        name: `${p.name} density`, type: "custom", xAxisIndex: g, yAxisIndex: g, clip: false, silent: true,
        data: p.density.map((r) => [r[1], r[0]]),
        renderItem: (params: any, api: any) => {
          if (params.dataIndex !== 0) return null;
          const first = p.density[0], last = p.density[p.density.length - 1];
          const pts = [[0, first[0]], [0, first[0]], ...p.density.map((r) => [r[1], r[0]]), [0, last[0]], [0, last[0]]].map((d) => api.coord(d));
          return { type: "polygon", shape: { points: pts, smooth: 0.35 }, style: { fill: p.fill, stroke: "#8b8b8b", lineWidth: 0.5 } };
        },
      });
      series.push({
        name: `${p.name} box`, type: "custom", xAxisIndex: g, yAxisIndex: g, clip: false, silent: true,
        data: [[bx, ...p.box]],
        renderItem: (_: any, api: any) => {
          const [lo, q1, med, q3, hi] = p.box;
          const c = (v: number) => api.coord([bx, v]);
          const x = c(0)[0], w = 14;
          return { type: "group", children: [
            { type: "line", shape: { x1: x, y1: c(lo)[1], x2: x, y2: c(hi)[1] }, style: { stroke: "#333", lineWidth: 1.3 } },
            { type: "rect", shape: { x: x - w / 2, y: c(q3)[1], width: w, height: c(q1)[1] - c(q3)[1] }, style: { fill: p.boxFill, stroke: "#666", lineWidth: 0.5 } },
            { type: "rect", shape: { x: x - w / 2, y: c(med)[1] - 2.5, width: w, height: 5 }, style: { fill: "#333" } },
          ] };
        },
      });
      series.push({
        name: `${p.name} outliers`, type: "scatter", xAxisIndex: g, yAxisIndex: g, silent: true, symbolSize: 6,
        data: p.outliers.map((v) => [bx, v]), itemStyle: { color: p.outlier, opacity: 1 },
      });
    });

    const graphic: any[] = [
      txt("a) Cloud plot of features from non-targeted analyses", 13, 24, 26.4, { bold: true }),
      txt("b) Pathway annotated features", 838, 23, 26.4, { bold: true }),
      txt("c) Major defense metabolites from targeted analyses", 55, 589, 26.4, { bold: true }),
      txt("ESI (-) m/z", 15, 205, 21, { rotation: Math.PI / 2, align: "right" }),
      txt("Retention time (minutes)", 513, 519, 20.3, { align: "center" }),
      txt("Catalpol", 143, 243, 16.8),
      txt("Plantamajoside", 237, 209, 16.8),
      txt("Verbascoside", 321, 169, 16.8),
      txt("Aucubin", 651, 442, 16.8),
      txt("Iridoids", 841, 101, 16.8, { align: "center" }),
      txt("monoterpenoids", 844, 121, 16.8, { align: "center" }),
      txt("Phenylpropanoids", 1069, 345, 16.8, { align: "center" }),
      ...arrow(903.3, 166, 871, 137),
      ...arrow(1080, 308.3, 1077.7, 333),
      txt("Aucubin", 53, 632, 22.7),
      txt("Catalpol", 314, 632, 22.7),
      txt("Verbascoside", 584, 632, 22.7),
      txt("Plantamajoside", 903, 632, 22.7),
      txt("Concentration (mg g\u207B\u00B9 DW)", 35, 745, 21, { rotation: Math.PI / 2, align: "right" }),
      txt("Concentration (mg g\u207B\u00B9 DW)", 308, 745, 21, { rotation: Math.PI / 2, align: "right" }),
      txt("Concentration (mg g\u207B\u00B9 DW)", 583, 745, 21, { rotation: Math.PI / 2, align: "right" }),
      txt("Relative abundance", 926, 791, 21.7, { rotation: Math.PI / 2, align: "right" }),
    ];
    const leftY = [380.7, 409, 438.3, 467.3], rightY = [383.3, 412.7, 441.7, 471];
    legendLeft.forEach((t, i) => {
      graphic.push({ type: "circle", shape: { cx: 882, cy: leftY[i], r: 10 }, style: { fill: legendLeftColors[i], stroke: "#ddd", lineWidth: 1 }, silent: true });
      graphic.push(txt(t, 903.3, leftY[i] - 1, 19));
    });
    legendRight.forEach((t, i) => {
      graphic.push({ type: "circle", shape: { cx: 1059.3, cy: rightY[i], r: 10 }, style: { fill: legendRightColors[i], stroke: i === 3 ? "#bbb" : "#ddd", lineWidth: 1 }, silent: true });
      graphic.push(txt(t, 1076.7, rightY[i] - 1, 19));
    });
    molecules.forEach((m) => graphic.push(...moleculeGraphics(m)));

    chart.setOption({ animation: false, grid: grids, xAxis: xAxes, yAxis: yAxes, series, graphic });
    return () => chart.dispose();
  }, []);
  return <div ref={ref} style={{ width: 1241, height: 999 }} />;
}
